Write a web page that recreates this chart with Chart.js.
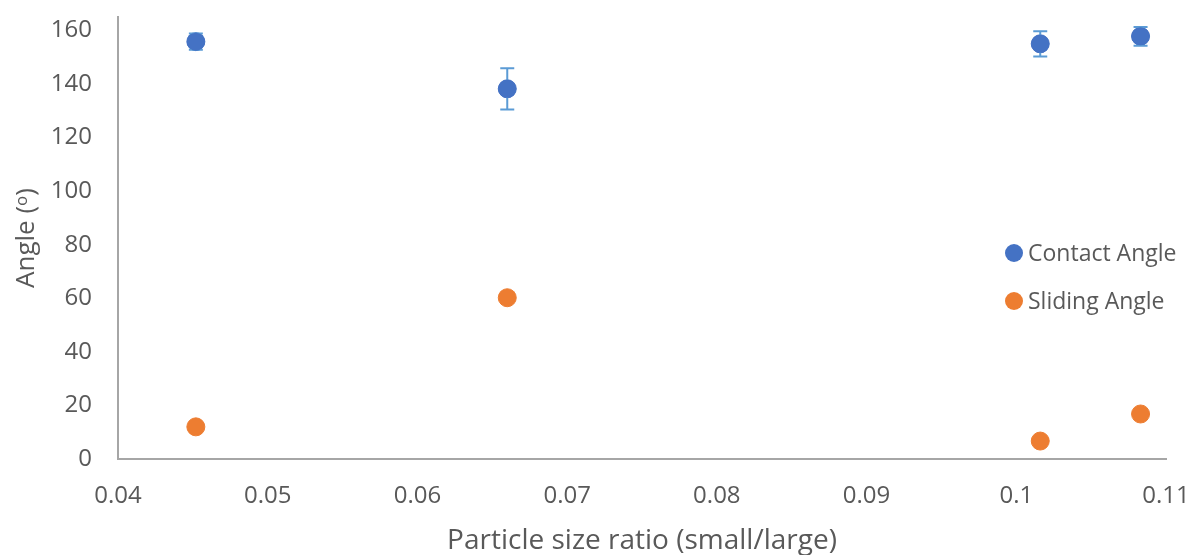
<!DOCTYPE html>
<html>
<head>
<meta charset="utf-8">
<script src="https://cdn.jsdelivr.net/npm/chart.js@4/dist/chart.umd.min.js"></script>
<style>
  html, body { margin: 0; padding: 0; background: #fff; }
  #wrap { width: 1193px; height: 555px; position: relative; }
</style>
</head>
<body>
<div id="wrap"><canvas id="angleChart"></canvas></div>
<script>
// data
var sizeRatio = [0.0452, 0.0660, 0.1016, 0.1083];
var contactAngle = [155.8, 138.2, 155.0, 157.8];
var contactError = [3.0, 7.7, 4.7, 3.5];
var slidingAngle = [12.0, 60.2, 6.7, 16.8];
var seriesNames = ['Contact Angle', 'Sliding Angle'];
var yTicks = [0, 20, 40, 60, 80, 100, 120, 140, 160];

var FONT = "'Open Sans', 'Noto Sans', sans-serif";
var TEXT = '#595959';
var AXIS = '#a6a6a6';

function toPoints(xs, ys) {
    return xs.map(function(x, i) { return { x: x, y: ys[i] }; });
}

// error bars on contact angle
var errorBars = {
    id: 'errorBars',
    afterDatasetsDraw: function(chart) {
        var ctx = chart.ctx;
        var xs = chart.scales.x, ys = chart.scales.y;
        ctx.save();
        ctx.strokeStyle = '#5b9bd5';
        ctx.lineWidth = 2;
        for (var i = 0; i < sizeRatio.length; i++) {
            var px = xs.getPixelForValue(sizeRatio[i]);
            var top = ys.getPixelForValue(contactAngle[i] + contactError[i]);
            var bot = ys.getPixelForValue(contactAngle[i] - contactError[i]);
            ctx.beginPath();
            ctx.moveTo(px, top); ctx.lineTo(px, bot);
            ctx.moveTo(px - 7, top); ctx.lineTo(px + 7, top);
            ctx.moveTo(px - 7, bot); ctx.lineTo(px + 7, bot);
            ctx.stroke();
        }
        // redraw markers over the bars
        chart.getDatasetMeta(0).data.forEach(function(p) {
            ctx.fillStyle = '#4472c4';
            ctx.beginPath();
            ctx.arc(p.x, p.y, 9, 0, Math.PI * 2);
            ctx.fill();
        });
        ctx.restore();
    }
};

// legend inside the plot, right side
var insideLegend = {
    id: 'insideLegend',
    afterDraw: function(chart) {
        var ctx = chart.ctx;
        var colors = ['#4472c4', '#ed7d31'];
        var rows = [253, 301];
        ctx.save();
        ctx.font = '23px ' + FONT;
        ctx.textBaseline = 'middle';
        for (var i = 0; i < seriesNames.length; i++) {
            ctx.fillStyle = colors[i];
            ctx.beginPath();
            ctx.arc(1014, rows[i], 9, 0, Math.PI * 2);
            ctx.fill();
            ctx.fillStyle = TEXT;
            ctx.fillText(seriesNames[i], 1028, rows[i] + 1);
        }
        ctx.restore();
    }
};

var ctx = document.getElementById('angleChart');
var myChart = new Chart(ctx, {
    type: 'scatter',
    data: {
        datasets: [{
            label: seriesNames[0],
            data: toPoints(sizeRatio, contactAngle),
            backgroundColor: '#4472c4',
            borderColor: '#4472c4',
            pointRadius: 9,
            pointHoverRadius: 9
        }, {
            label: seriesNames[1],
            data: toPoints(sizeRatio, slidingAngle),
            backgroundColor: '#ed7d31',
            borderColor: '#ed7d31',
            pointRadius: 9,
            pointHoverRadius: 9
        }]
    },
    options: {
        responsive: true,
        maintainAspectRatio: false,
        animation: false,
        layout: { padding: { top: 17, right: 27, left: 0, bottom: 0 } },
        scales: {
            x: {
                type: 'linear',
                min: 0.04,
                max: 0.11,
                afterFit: function(s) { s.height = 96; s.paddingLeft = 0; s.paddingRight = 0; },
                grid: { display: false, drawTicks: false },
                border: { color: AXIS, width: 2 },
                ticks: {
                    stepSize: 0.01,
                    padding: 23,
                    color: TEXT,
                    font: { family: FONT, size: 24 },
                    callback: function(v) { return +v.toFixed(2); }
                },
                title: {
                    display: true,
                    text: 'Particle size ratio (small/large)',
                    color: TEXT,
                    font: { family: FONT, size: 28, lineHeight: 1 },
                    padding: { top: 0, bottom: 0 }
                }
            },
            y: {
                min: 0,
                max: 165,
                afterFit: function(s) { s.width = 118; s.paddingTop = 0; s.paddingBottom = 0; },
                afterBuildTicks: function(s) {
                    s.ticks = yTicks.map(function(v) { return { value: v }; });
                },
                grid: { display: false, drawTicks: false },
                border: { color: AXIS, width: 2 },
                ticks: {
                    padding: 26,
                    color: TEXT,
                    font: { family: FONT, size: 24 }
                },
                title: {
                    display: true,
                    text: 'Angle (ᵒ)',
                    color: TEXT,
                    font: { family: FONT, size: 26 },
                    padding: { top: 11, bottom: 0 }
                }
            }
        },
        plugins: {
            legend: { display: false },
            tooltip: { enabled: false }
        }
    },
    plugins: [errorBars, insideLegend]
});
</script>
</body>
</html>
